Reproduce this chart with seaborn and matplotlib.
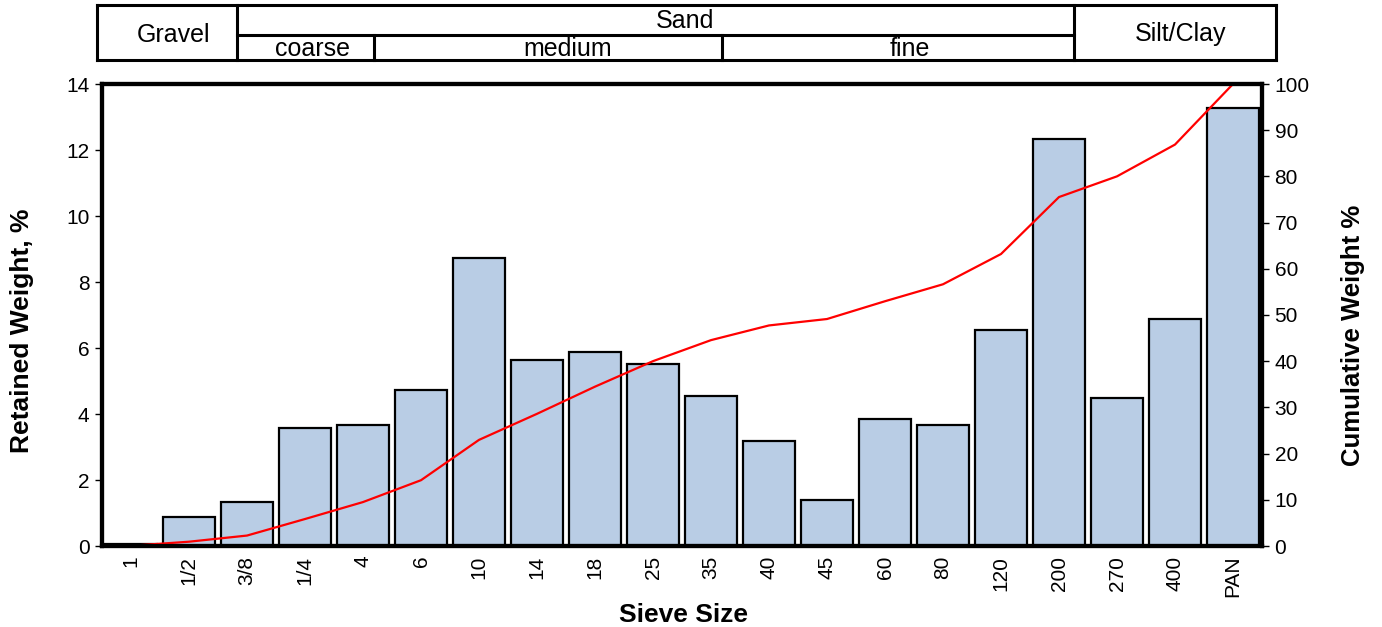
import matplotlib
matplotlib.use("Agg")
import matplotlib.pyplot as plt
from matplotlib.lines import Line2D
import numpy as np
import pandas as pd
import seaborn as sns

# Sieve analysis: retained weight per sieve and cumulative passing curve
sieves = ["1", "1/2", "3/8", "1/4", "4", "6", "10", "14", "18", "25",
          "35", "40", "45", "60", "80", "120", "200", "270", "400", "PAN"]
retained = [0.05, 0.88, 1.33, 3.58, 3.67, 4.73, 8.73, 5.64, 5.88, 5.52,
            4.55, 3.18, 1.39, 3.85, 3.67, 6.55, 12.33, 4.48, 6.88, 13.27]
cumulative = [0.05, 0.93, 2.26, 5.84, 9.51, 14.24, 22.97, 28.61, 34.49, 40.01,
              44.56, 47.74, 49.13, 52.98, 56.65, 63.2, 75.53, 80.01, 86.89, 100.0]

# Soil classification header bands (figure-pixel spans)
top_bands = [("Gravel", 97, 237, 174), ("Silt/Clay", 1074, 1276, 1181)]
sand_label = ("Sand", 237, 1074, 685)
sand_sub = [("coarse", 237, 374, 313), ("medium", 374, 722, 568), ("fine", 722, 1074, 910)]

sns.set_theme(style="white")
plt.rcParams["font.family"] = ["Liberation Sans", "DejaVu Sans"]
plt.rcParams["text.color"] = "black"
plt.rcParams["axes.labelcolor"] = "black"
plt.rcParams["xtick.color"] = "black"
plt.rcParams["ytick.color"] = "black"

W, H = 1382, 627
X0, X1, Y0, Y1 = 102, 1262, 84, 546
fig = plt.figure(figsize=(W / 100, H / 100), dpi=100)
ax = fig.add_axes([X0 / W, 1 - Y1 / H, (X1 - X0) / W, (Y1 - Y0) / H])

def ax_x(px):
    return (px - X0) / (X1 - X0)

def ax_y(py):
    return (Y1 - py) / (Y1 - Y0)

df = pd.DataFrame({"sieve": sieves, "retained": retained, "cum": cumulative})

sns.barplot(data=df, x="sieve", y="retained", color="#B9CDE5", saturation=1,
            edgecolor="black", linewidth=1.6, width=0.9, ax=ax)
ax.set_xlim(-0.5, len(sieves) - 0.5)
ax.set_ylim(0, 14)
ax.set_yticks(np.arange(0, 15, 2))
ax.set_xticks(range(len(sieves)))
ax.set_xticklabels(sieves, rotation=90)
ax.set_xticks(np.arange(-0.5, len(sieves), 1), minor=True)
ax.tick_params(axis="x", which="major", length=0, pad=7, labelsize=15)
ax.tick_params(axis="x", which="minor", length=5, width=1, color="black", direction="out")
ax.tick_params(axis="y", length=5, width=1, color="black", direction="out", labelsize=15, pad=4)
ax.set_xlabel("Sieve Size", fontsize=19, fontweight="bold")
ax.xaxis.set_label_coords(ax_x(684), ax_y(603))
ax.xaxis.label.set_va("top")
ax.set_ylabel("Retained Weight, %", fontsize=19, fontweight="bold")
ax.yaxis.set_label_coords(ax_x(34), ax_y(331))
for s in ax.spines.values():
    s.set_linewidth(3)
    s.set_color("black")

ax2 = ax.twinx()
sns.lineplot(x=np.arange(len(sieves)), y=df["cum"], color="red", linewidth=1.6, ax=ax2)
ax2.set_ylim(0, 100)
ax2.set_yticks(np.arange(0, 101, 10))
ax2.tick_params(axis="y", length=5, width=1, color="black", direction="out", labelsize=15, pad=4)
ax2.set_ylabel("Cumulative Weight %", fontsize=18.5, fontweight="bold")
ax2.yaxis.set_label_coords(ax_x(1341), ax_y(335))
for s in ax2.spines.values():
    s.set_linewidth(3)
    s.set_color("black")

# Header table drawn in figure pixel coordinates
def fx(x):
    return x / W

def fy(y):
    return 1 - y / H

lw = 2.2
y_top, y_mid, y_bot = 5, 35, 60

def hline(x0, x1, y):
    fig.add_artist(Line2D([fx(x0), fx(x1)], [fy(y), fy(y)], color="black", lw=lw,
                          solid_capstyle="projecting"))

def vline(x, y0, y1):
    fig.add_artist(Line2D([fx(x), fx(x)], [fy(y0), fy(y1)], color="black", lw=lw,
                          solid_capstyle="projecting"))

hline(97, 1276, y_top)
hline(97, 1276, y_bot)
hline(237, 1074, y_mid)
for x in (97, 237, 1074, 1276):
    vline(x, y_top, y_bot)
for x in (374, 722):
    vline(x, y_mid, y_bot)

hdr_fs = 18
for name, x0, x1, xc in top_bands:
    fig.text(fx(xc), fy((y_top + y_bot) / 2 + 2), name, ha="center", va="center", fontsize=hdr_fs)
fig.text(fx(sand_label[3]), fy((y_top + y_mid) / 2 + 1), sand_label[0], ha="center", va="center", fontsize=hdr_fs)
for name, x0, x1, xc in sand_sub:
    fig.text(fx(xc), fy((y_mid + y_bot) / 2 + 1), name, ha="center", va="center", fontsize=hdr_fs)

fig.savefig("out.png", dpi=100)
